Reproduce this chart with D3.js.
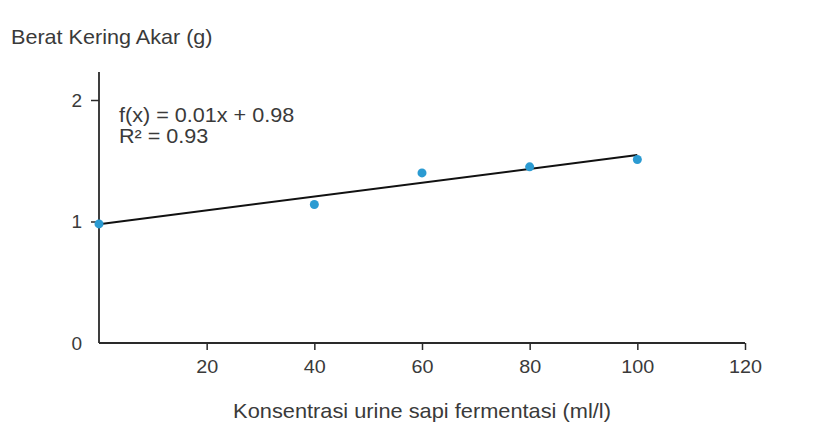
<!DOCTYPE html>
<html>
<head>
<meta charset="utf-8">
<script src="https://cdn.jsdelivr.net/npm/d3@7"></script>
<style>
  body { margin: 0; background: #fff; }
  text { font-family: "Liberation Sans", Arial, sans-serif; fill: #3a3a3a; }
</style>
</head>
<body>
<div id="chart"></div>
<script>
// data
var konsentrasi = [0, 40, 60, 80, 100];
var beratKering = [0.98, 1.14, 1.40, 1.45, 1.51];
var xTicks = [20, 40, 60, 80, 100, 120];
var yTicks = [0, 1, 2];
var equationLines = ["f(x) = 0.01x + 0.98", "R² = 0.93"];

var width = 821, height = 432;
var stretch = 1.08; // the labels in the picture are a bit wide
var svg = d3.select("#chart").append("svg")
    .attr("width", width).attr("height", height);

var x = d3.scaleLinear().domain([0, 120]).range([99, 745]);
var y = d3.scaleLinear().domain([0, 2]).range([343, 100]);

// linear trend from the points
var mx = d3.mean(konsentrasi), my = d3.mean(beratKering);
var sxy = d3.sum(konsentrasi, function(d, i){ return (d - mx) * (beratKering[i] - my); });
var sxx = d3.sum(konsentrasi, function(d){ return (d - mx) * (d - mx); });
var slope = sxy / sxx, intercept = my - slope * mx;

// x axis
var xAxis = d3.axisBottom(x).tickValues(xTicks).tickFormat(d3.format("d"))
    .tickSize(7).tickSizeOuter(0);
var gx = svg.append("g").attr("transform", "translate(0," + y(0) + ")").call(xAxis);
gx.select(".domain").attr("stroke", "#2a2a2a").attr("stroke-width", 1.8)
    .attr("d", "M" + x(0) + ",0H" + x(120));
gx.selectAll(".tick line").attr("stroke", "#2a2a2a").attr("stroke-width", 1.5);
gx.selectAll(".tick text").attr("y", 0).attr("dy", null)
    .attr("transform", "translate(0,30) scale(1.04,1)");

// y axis
var yAxis = d3.axisLeft(y).tickValues(yTicks).tickFormat(d3.format("d"))
    .tickSize(8).tickSizeOuter(0);
var gy = svg.append("g").attr("transform", "translate(" + x(0) + ",0)").call(yAxis);
gy.select(".domain").attr("stroke", "#2a2a2a").attr("stroke-width", 1.8)
    .attr("d", "M0,72V" + y(0));
gy.selectAll(".tick line").attr("stroke", "#2a2a2a").attr("stroke-width", 1.5)
    .attr("display", function(d){ return d === 0 ? "none" : null; });
gy.selectAll(".tick text").attr("x", -17);

svg.selectAll(".tick text")
    .style("font-family", "'Liberation Sans', Arial, sans-serif")
    .style("font-size", "19px").style("fill", "#3a3a3a");

// trend line
svg.append("line")
    .attr("x1", x(0)).attr("y1", y(intercept))
    .attr("x2", x(100)).attr("y2", y(intercept + slope * 100))
    .attr("stroke", "#111").attr("stroke-width", 2);

// points
svg.selectAll(".pt").data(konsentrasi).enter().append("circle")
    .attr("class", "pt")
    .attr("cx", function(d){ return x(d); })
    .attr("cy", function(d, i){ return y(beratKering[i]); })
    .attr("r", 4.5)
    .attr("fill", "#2b9bd2");

// equation
svg.selectAll(".eq").data(equationLines).enter().append("text")
    .attr("class", "eq")
    .attr("transform", function(d, i){ return "translate(119," + (122 + i * 21) + ") scale(" + stretch + ",1)"; })
    .style("font-size", "20px")
    .text(function(d){ return d; });

// titles
svg.append("text").attr("transform", "translate(11,44) scale(" + stretch + ",1)")
    .style("font-size", "20px").text("Berat Kering Akar (g)");
svg.append("text").attr("transform", "translate(422,418) scale(1.09,1)")
    .attr("text-anchor", "middle")
    .style("font-size", "20px").text("Konsentrasi urine sapi fermentasi (ml/l)");
</script>
</body>
</html>
